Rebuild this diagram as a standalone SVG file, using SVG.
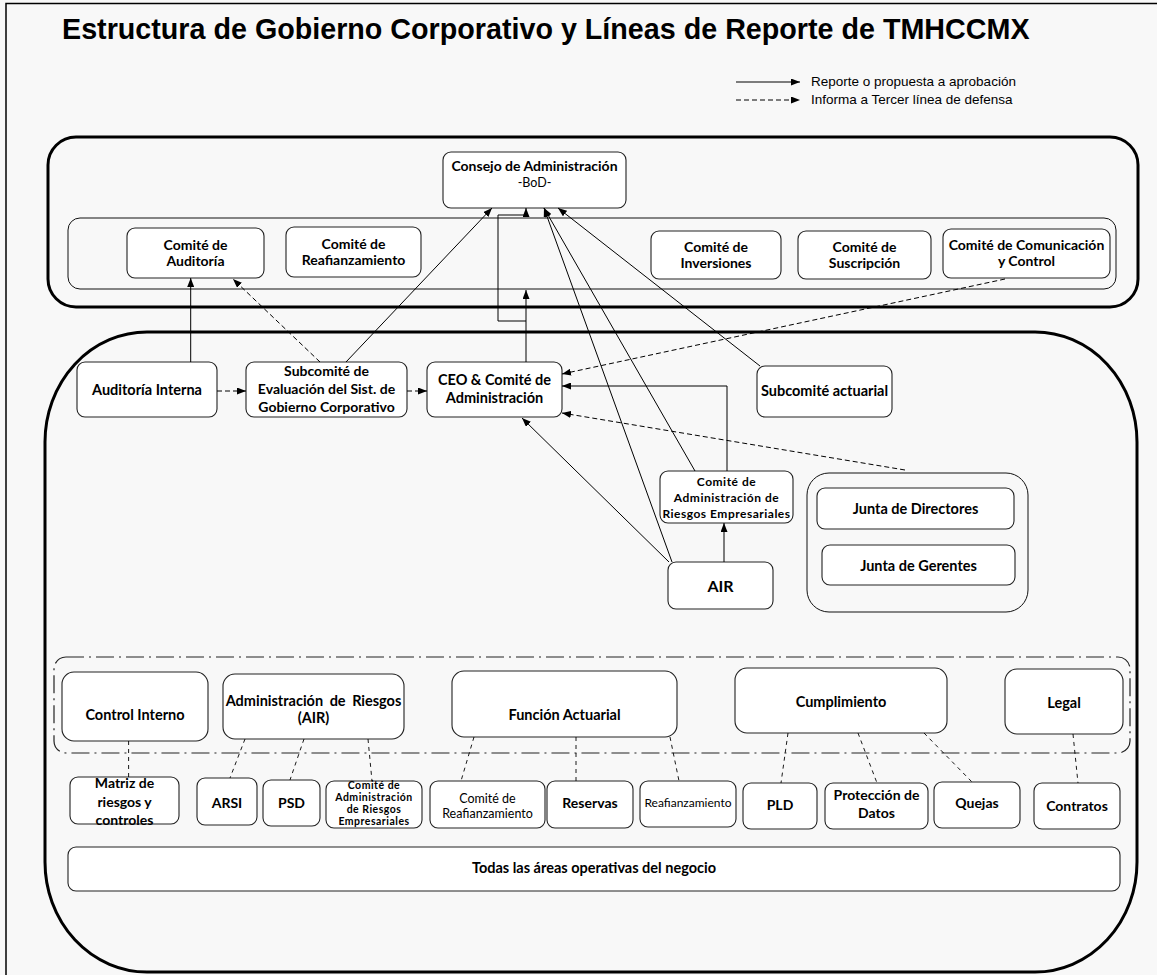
<svg xmlns="http://www.w3.org/2000/svg" width="1157" height="975" viewBox="0 0 1157 975">
<defs>
<marker id="ah" viewBox="0 0 9 7" refX="9" refY="3.5" markerWidth="9" markerHeight="7" markerUnits="userSpaceOnUse" orient="auto"><path d="M0,0 L9,3.5 L0,7 z" fill="#000"/></marker>
<style>
.bg{fill:#f8f8f8}
.big{fill:none;stroke:#000;stroke-width:3}
.grp{fill:none;stroke:#111;stroke-width:1}
.box{fill:#fff;stroke:#222;stroke-width:1.1}
.dd{fill:none;stroke:#222;stroke-width:1.2;stroke-dasharray:18 5 2 5}
.c{fill:none;stroke:#000;stroke-width:1}
.cd{fill:none;stroke:#000;stroke-width:1;stroke-dasharray:5 3}
.cs{fill:none;stroke:#000;stroke-width:0.9;stroke-dasharray:4 4}
.a{marker-end:url(#ah)}
text{font-family:Lato,"Liberation Sans",sans-serif;fill:#000;text-anchor:middle}
.b{font-weight:700;font-size:14.5px}
.b14{font-weight:700;font-size:14px}
.r{font-weight:400;font-size:12.5px}
.s{font-weight:700;font-size:10.5px;letter-spacing:0.5px}
.s12{font-weight:700;font-size:12px;letter-spacing:0.5px}
.title{font-family:"Liberation Sans",Arial,sans-serif;font-weight:700;font-size:28.7px;text-anchor:start}
.leg{font-family:"Liberation Sans",Arial,sans-serif;font-size:13.5px;text-anchor:start}
</style>
</defs>
<rect class="bg" x="0" y="0" width="1157" height="975"/>
<path d="M6,975 V3.5 H1157" fill="none" stroke="#000" stroke-width="1.5"/>
<text class="title" x="62" y="39">Estructura de Gobierno Corporativo y Líneas de Reporte de TMHCCMX</text>
<g id="legend">
<path class="c a" d="M736,82 H800"/>
<path class="cd a" d="M736,100 H800"/>
<text class="leg" x="811" y="86">Reporte o propuesta a aprobación</text>
<text class="leg" x="811" y="104">Informa a Tercer línea de defensa</text>
</g>
<g id="containers">
<rect class="big" x="48" y="137" width="1090" height="170" rx="28"/>
<rect class="grp" x="68" y="218" width="1048" height="71" rx="12"/>
<rect class="big" x="45" y="332" width="1092" height="640" rx="102" ry="110"/>
<rect class="grp" x="807" y="473" width="221" height="139" rx="22"/>
<rect class="dd" x="54" y="657" width="1076" height="96" rx="12"/>
</g>
<g id="n-consejo"><rect class="box" x="443" y="152" width="183" height="56" rx="8"/><text class="b14" x="534.5" y="171">Consejo de Administración</text><text class="r" x="534.5" y="187">-BoD-</text></g>
<g id="n-auditoria"><rect class="box" x="127" y="228" width="137" height="50" rx="8"/><text class="b14" x="195.5" y="250">Comité de</text><text class="b14" x="195.5" y="266">Auditoría</text></g>
<g id="n-reafianz"><rect class="box" x="286" y="227" width="135" height="50" rx="8"/><text class="b14" x="353.5" y="249">Comité de</text><text class="b14" x="353.5" y="265">Reafianzamiento</text></g>
<g id="n-inversiones"><rect class="box" x="651" y="231" width="130" height="48" rx="8"/><text class="b14" x="716" y="252">Comité de</text><text class="b14" x="716" y="268">Inversiones</text></g>
<g id="n-suscripcion"><rect class="box" x="798" y="231" width="133" height="48" rx="8"/><text class="b14" x="864.5" y="252">Comité de</text><text class="b14" x="864.5" y="268">Suscripción</text></g>
<g id="n-comunicacion"><rect class="box" x="943" y="229" width="167" height="49" rx="8"/><text class="b14" x="1026.5" y="250">Comité de Comunicación</text><text class="b14" x="1026.5" y="266">y Control</text></g>
<g id="n-audint"><rect class="box" x="77" y="362" width="140" height="55" rx="8"/><text class="b" x="147" y="395">Auditoría Interna</text></g>
<g id="n-subcomite"><rect class="box" x="246" y="362" width="161" height="55" rx="8"/><text class="b14" x="326.5" y="376">Subcomité de</text><text class="b14" x="326.5" y="394">Evaluación del Sist. de</text><text class="b14" x="326.5" y="412">Gobierno Corporativo</text></g>
<g id="n-ceo"><rect class="box" x="427" y="362" width="135" height="55" rx="8"/><text class="b" x="494.5" y="385">CEO &amp; Comité de</text><text class="b" x="494.5" y="403">Administración</text></g>
<g id="n-subact"><rect class="box" x="757" y="366" width="135" height="51" rx="8"/><text class="b" x="824.5" y="396">Subcomité actuarial</text></g>
<g id="n-care"><rect class="box" x="660" y="471" width="133" height="52" rx="8"/><text class="s12" x="726.5" y="486">Comité de</text><text class="s12" x="726.5" y="502">Administración de</text><text class="s12" x="726.5" y="518">Riesgos Empresariales</text></g>
<g id="n-air"><rect class="box" x="668" y="562" width="105" height="47" rx="8"/><text class="b" x="720.5" y="592" style="font-size:16px">AIR</text></g>
<g id="n-jdir"><rect class="box" x="817" y="488" width="197" height="41" rx="8"/><text class="b" x="915.5" y="514">Junta de Directores</text></g>
<g id="n-jger"><rect class="box" x="822" y="545" width="193" height="40" rx="8"/><text class="b" x="918.5" y="571">Junta de Gerentes</text></g>
<g id="n-ci"><rect class="box" x="62" y="672" width="146" height="69" rx="12"/><text class="b" x="135" y="720">Control Interno</text></g>
<g id="n-ar"><rect class="box" x="223" y="674" width="181" height="65" rx="12"/><text class="b" x="313.5" y="706" word-spacing="3">Administración de Riesgos</text><text class="b" x="313.5" y="723">(AIR)</text></g>
<g id="n-fa"><rect class="box" x="452" y="671" width="225" height="66" rx="12"/><text class="b" x="564.5" y="720">Función Actuarial</text></g>
<g id="n-cump"><rect class="box" x="735" y="668" width="212" height="65" rx="12"/><text class="b" x="841" y="707">Cumplimiento</text></g>
<g id="n-legal"><rect class="box" x="1005" y="669" width="118" height="65" rx="12"/><text class="b" x="1064" y="708">Legal</text></g>
<g id="n-matriz"><rect class="box" x="70" y="777" width="109" height="47" rx="8"/><text class="b14" x="124.5" y="788">Matriz de</text><text class="b14" x="124.5" y="807">riesgos y</text><text class="b14" x="124.5" y="825">controles</text></g>
<g id="n-arsi"><rect class="box" x="197" y="778" width="60" height="47" rx="8"/><text class="b14" x="227" y="808">ARSI</text></g>
<g id="n-psd"><rect class="box" x="263" y="780" width="57" height="46" rx="8"/><text class="b14" x="291.5" y="808">PSD</text></g>
<g id="n-care2"><rect class="box" x="326" y="781" width="96" height="47" rx="8"/><text class="s" x="374" y="789">Comité de</text><text class="s" x="374" y="801">Administración</text><text class="s" x="374" y="813">de Riesgos</text><text class="s" x="374" y="825">Empresariales</text></g>
<g id="n-creaf"><rect class="box" x="430" y="781" width="115" height="47" rx="8"/><text class="r" x="487.5" y="803">Comité de</text><text class="r" x="487.5" y="818">Reafianzamiento</text></g>
<g id="n-reservas"><rect class="box" x="547" y="781" width="86" height="47" rx="8"/><text class="b14" x="590" y="808">Reservas</text></g>
<g id="n-reaf"><rect class="box" x="640" y="781" width="96" height="46" rx="8"/><text class="r" x="688" y="807" style="font-size:12px">Reafianzamiento</text></g>
<g id="n-pld"><rect class="box" x="743" y="783" width="74" height="46" rx="8"/><text class="b14" x="780" y="810">PLD</text></g>
<g id="n-prot"><rect class="box" x="825" y="783" width="103" height="46" rx="8"/><text class="b14" x="876.5" y="800">Protección de</text><text class="b14" x="876.5" y="818">Datos</text></g>
<g id="n-quejas"><rect class="box" x="934" y="782" width="86" height="46" rx="8"/><text class="b14" x="977" y="808">Quejas</text></g>
<g id="n-contratos"><rect class="box" x="1034" y="783" width="86" height="46" rx="8"/><text class="b14" x="1077" y="811">Contratos</text></g>
<g id="n-todas"><rect class="box" x="68" y="847" width="1052" height="44" rx="8"/><text class="b" x="594" y="873">Todas las áreas operativas del negocio</text></g>
<g id="connectors">
<path class="c a" d="M190.7,362 V278"/>
<path class="c a" d="M346,362 L492,208"/>
<path class="c a" d="M526,362 V290"/>
<path class="c a" d="M526,321 H498 V215 H526 V208"/>
<path class="c a" d="M672,562 L544,208"/>
<path class="c a" d="M695,471 L544,208"/>
<path class="c a" d="M760,366 L558,208"/>
<path class="c a" d="M727,471 V386 H562"/>
<path class="c a" d="M724,562 V523"/>
<path class="c a" d="M669,562 L522,418"/>
<path class="cd a" d="M217,391 H246"/>
<path class="cd a" d="M407,391 H427"/>
<path class="cd a" d="M320,362 L233,279"/>
<path class="cd a" d="M1005,279 L562,374"/>
<path class="cd a" d="M905,470 L562,413"/>
<path class="cs" d="M128.6,741 V777"/>
<path class="cs" d="M245,739 L230,778"/>
<path class="cs" d="M304,739 L290,780"/>
<path class="cs" d="M368,739 L372,781"/>
<path class="cs" d="M474,737 L461,781"/>
<path class="cs" d="M576,737 V781"/>
<path class="cs" d="M670,737 L679,781"/>
<path class="cs" d="M788,733 L781,783"/>
<path class="cs" d="M858,733 L877,783"/>
<path class="cs" d="M924,733 L972,782"/>
<path class="cs" d="M1073,734 L1078,783"/>
</g>
</svg>
